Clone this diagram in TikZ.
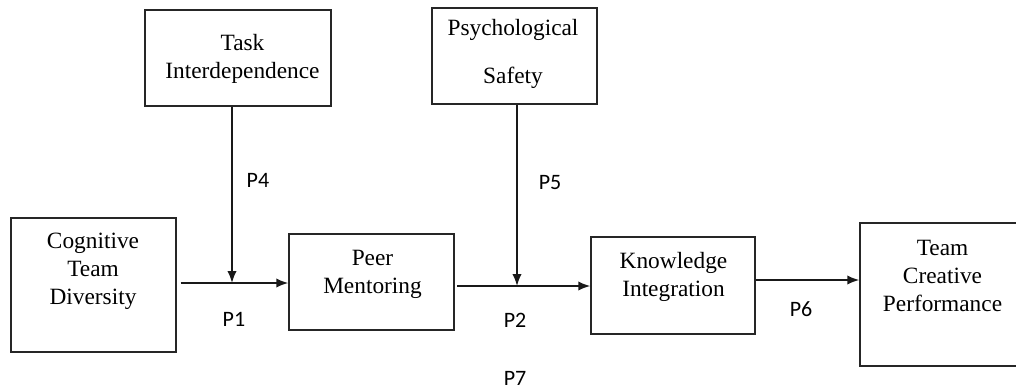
\documentclass[tikz,border=0pt]{standalone}
\usepackage{fontspec}
\setmainfont{Liberation Serif}
\newfontfamily\plabelfont{Carlito}
\usetikzlibrary{arrows.meta,calc,positioning}

\begin{document}
\begin{tikzpicture}[x=0.75pt,y=-0.75pt,
    box/.style={draw=black!85,line width=1.1pt,fill=white,inner sep=0pt},
    boxtext/.style={align=center,inner sep=0pt,font=\fontsize{17.5}{21}\selectfont},
    plabel/.style={inner sep=0pt,font=\plabelfont\fontsize{16.5}{19}\selectfont},
    link/.style={draw=black!90,line width=1.2pt,-{Latex[length=9pt,width=7pt]}}]

      \useasboundingbox (0,0) rectangle (1016,389);

      % draw the boxes (name/x/y/width/height)
      \def\boxes{task/238/58/186/96, psych/514.5/56/165/96,
        cog/93.5/285/165/134, peer/371.5/282/165/96,
        know/673/285.5/164/97, team/941/294.5/162/143}
      \foreach \nm/\cx/\cy/\w/\h in \boxes
        \node[box,minimum width={\w*0.75pt},minimum height={\h*0.75pt}] (\nm) at (\cx,\cy) {};

      % write the texts in the boxes
      \def\texts{task/242.5/58.5/{Task\\Interdependence},
        psych/513/54/{Psychological\\[15pt]Safety},
        cog/93/271/{Cognitive\\Team\\Diversity},
        peer/372.5/274/{Peer\\Mentoring},
        know/673.5/276.5/{Knowledge\\Integration},
        team/942.5/276/{Team\\Creative\\Performance}}
      \foreach \nm/\tx/\ty/\txt in \texts
        \node[boxtext] (\nm-txt) at (\tx,\ty) {\txt};

      % draw the links
      \coordinate (j1) at (232,283);
      \coordinate (j2) at (517,286);
      \coordinate (j3) at (800,280);
      \draw[link,shorten <=3pt] (cog.east |- j1) -- (peer.west |- j1);
      \draw[link] (task.south -| j1) -- (j1);
      \draw[link,shorten <=2pt] (peer.east |- j2) -- (know.west |- j2);
      \draw[link] (psych.south -| j2) -- (j2);
      \draw[link] (know.east |- j3) -- (team.west |- j3);

      % label the propositions
      \foreach \n/\lx/\ly in {1/234/319, 2/515/320, 4/258/180, 5/550/183, 6/801/309, 7/515/378}
        \node[plabel] (p\n) at (\lx,\ly) {P\n};

\end{tikzpicture}
\end{document}
